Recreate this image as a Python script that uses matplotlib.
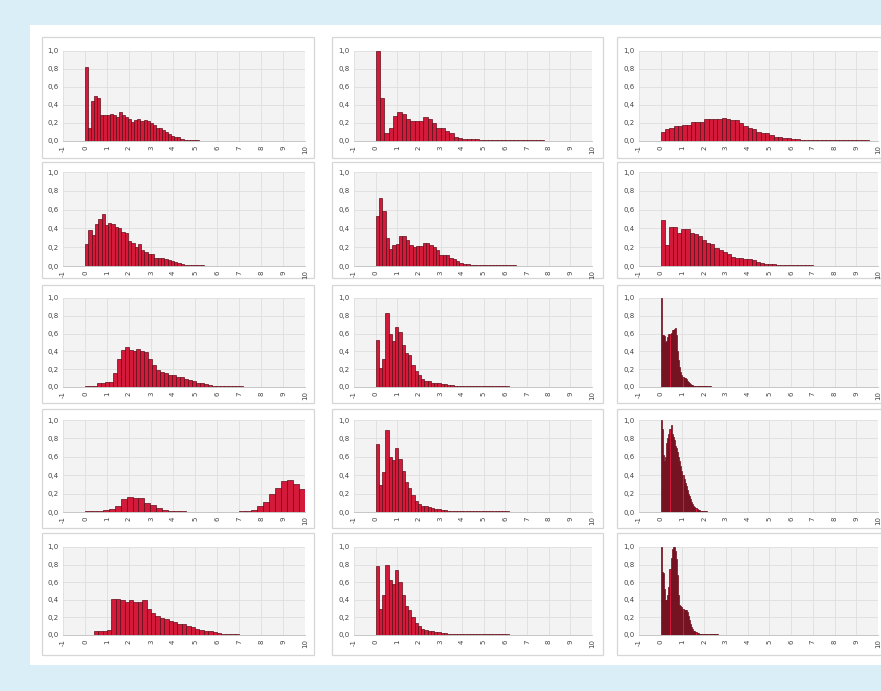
import numpy as np
import matplotlib
matplotlib.use("Agg")
import matplotlib.pyplot as plt
from matplotlib.patches import Rectangle

# histogram values per panel (row, column)
r1c1 = [0.82, 0.14, 0.45, 0.50, 0.48, 0.29, 0.29, 0.29, 0.30, 0.29, 0.27, 0.32, 0.29, 0.27, 0.25, 0.21, 0.23, 0.24,
        0.22, 0.23, 0.22, 0.20, 0.18, 0.15, 0.14, 0.12, 0.10, 0.08, 0.06, 0.05, 0.04, 0.025, 0.015, 0.01, 0.008, 0.007, 0.007]
r1c2 = [1.0, 0.48, 0.09, 0.14, 0.28, 0.32, 0.30, 0.25, 0.22, 0.22, 0.22, 0.27, 0.25, 0.20, 0.15, 0.15, 0.11, 0.09, 0.05,
        0.03, 0.025, 0.025, 0.025, 0.02, 0.012, 0.01, 0.009, 0.008, 0.007, 0.007, 0.007, 0.007, 0.007, 0.007, 0.007,
        0.007, 0.007, 0.007, 0.007]
r1c3 = [0.10, 0.13, 0.15, 0.17, 0.17, 0.18, 0.18, 0.21, 0.21, 0.21, 0.24, 0.24, 0.25, 0.25, 0.26, 0.25, 0.23, 0.23,
        0.20, 0.17, 0.15, 0.13, 0.10, 0.09, 0.09, 0.07, 0.05, 0.04, 0.03, 0.03, 0.025, 0.02, 0.015, 0.012, 0.01, 0.009,
        0.008, 0.007, 0.007, 0.007, 0.006, 0.006, 0.006, 0.006, 0.006, 0.006, 0.006, 0.006]
r2c1 = [0.23, 0.38, 0.33, 0.45, 0.50, 0.55, 0.44, 0.46, 0.45, 0.42, 0.40, 0.36, 0.35, 0.27, 0.24, 0.20, 0.23, 0.17,
        0.15, 0.13, 0.13, 0.09, 0.09, 0.09, 0.07, 0.06, 0.05, 0.04, 0.03, 0.02, 0.015, 0.01, 0.009, 0.008, 0.008, 0.007]
r2c2 = [0.53, 0.72, 0.58, 0.30, 0.18, 0.22, 0.23, 0.32, 0.32, 0.28, 0.22, 0.20, 0.21, 0.21, 0.25, 0.25, 0.22, 0.20,
        0.17, 0.12, 0.12, 0.12, 0.09, 0.07, 0.05, 0.03, 0.02, 0.02, 0.015, 0.015, 0.01, 0.01, 0.01, 0.01, 0.01, 0.008,
        0.008, 0.008, 0.007, 0.007, 0.007, 0.007]
r2c3 = [0.49, 0.22, 0.41, 0.42, 0.35, 0.39, 0.39, 0.35, 0.34, 0.32, 0.28, 0.24, 0.23, 0.19, 0.17, 0.15, 0.13, 0.10,
        0.09, 0.08, 0.07, 0.07, 0.06, 0.04, 0.035, 0.025, 0.02, 0.02, 0.01, 0.015, 0.01, 0.008, 0.008, 0.007, 0.007,
        0.007, 0.007]
r3c1 = [0.006, 0.006, 0.01, 0.045, 0.05, 0.06, 0.06, 0.16, 0.32, 0.42, 0.45, 0.42, 0.41, 0.43, 0.41, 0.39, 0.32, 0.25,
        0.19, 0.17, 0.16, 0.13, 0.13, 0.11, 0.11, 0.09, 0.08, 0.065, 0.05, 0.04, 0.03, 0.02, 0.012, 0.009, 0.008, 0.007,
        0.007, 0.007, 0.007, 0.006]
r3c2 = [0.53, 0.21, 0.31, 0.83, 0.59, 0.52, 0.67, 0.62, 0.47, 0.38, 0.36, 0.25, 0.18, 0.13, 0.09, 0.07, 0.07, 0.05,
        0.045, 0.04, 0.03, 0.03, 0.025, 0.02, 0.015, 0.012, 0.01, 0.009, 0.008, 0.008, 0.007, 0.007, 0.007, 0.007, 0.007,
        0.007, 0.007, 0.007, 0.007, 0.007, 0.007]
r3c3 = [1.0, 0.58, 0.58, 0.57, 0.50, 0.52, 0.56, 0.59, 0.60, 0.61, 0.64, 0.64, 0.65, 0.66, 0.58, 0.40, 0.30, 0.22,
        0.17, 0.13, 0.11, 0.10, 0.10, 0.09, 0.07, 0.06, 0.04, 0.03, 0.025, 0.02, 0.015, 0.012, 0.01, 0.01, 0.01, 0.01,
        0.009, 0.009, 0.009, 0.008, 0.008, 0.008, 0.008, 0.008, 0.008, 0.008]
r4c1 = [0.006, 0.006, 0.012, 0.02, 0.03, 0.065, 0.14, 0.16, 0.155, 0.155, 0.10, 0.075, 0.04, 0.025, 0.015, 0.008,
        0.006, 0.005, 0.005, 0.005, 0.005, 0.005, 0.005, 0.005, 0.005, 0.005, 0.006, 0.01, 0.025, 0.06, 0.11, 0.20,
        0.26, 0.34, 0.345, 0.30, 0.25]
r4c2 = [0.74, 0.29, 0.44, 0.89, 0.60, 0.57, 0.70, 0.58, 0.45, 0.33, 0.26, 0.18, 0.12, 0.09, 0.07, 0.06, 0.05, 0.04,
        0.035, 0.03, 0.025, 0.02, 0.015, 0.012, 0.01, 0.009, 0.008, 0.008, 0.007, 0.007, 0.007, 0.007, 0.007, 0.007,
        0.007, 0.007, 0.007, 0.007, 0.007, 0.007, 0.007]
r4c3 = [1.0, 0.90, 0.62, 0.55, 0.60, 0.75, 0.80, 0.85, 0.90, 0.95, 0.85, 0.82, 0.78, 0.72, 0.70, 0.65, 0.60, 0.55,
        0.50, 0.45, 0.40, 0.36, 0.32, 0.28, 0.24, 0.20, 0.17, 0.14, 0.11, 0.09, 0.07, 0.05, 0.04, 0.03, 0.025, 0.02,
        0.015, 0.012, 0.01, 0.009, 0.008, 0.008, 0.008]
r5c1 = [0.05, 0.05, 0.05, 0.06, 0.41, 0.41, 0.40, 0.38, 0.40, 0.38, 0.38, 0.40, 0.30, 0.25, 0.22, 0.19, 0.18, 0.16,
        0.15, 0.13, 0.12, 0.10, 0.09, 0.07, 0.06, 0.05, 0.04, 0.03, 0.02, 0.015, 0.01, 0.008, 0.007]
r5c2 = [0.78, 0.30, 0.45, 0.80, 0.62, 0.58, 0.74, 0.60, 0.45, 0.33, 0.28, 0.20, 0.14, 0.10, 0.07, 0.06, 0.05, 0.04,
        0.035, 0.03, 0.025, 0.02, 0.015, 0.012, 0.01, 0.009, 0.008, 0.008, 0.007, 0.007, 0.007, 0.007, 0.007, 0.007,
        0.007, 0.007, 0.007, 0.007, 0.007, 0.007, 0.007]
r5c3 = [1.0, 0.72, 0.70, 0.52, 0.40, 0.40, 0.45, 0.55, 0.75, 0.88, 0.98, 1.0, 1.0, 0.95, 0.86, 0.68, 0.45, 0.34,
        0.33, 0.32, 0.30, 0.28, 0.28, 0.28, 0.26, 0.22, 0.17, 0.12, 0.09, 0.07, 0.05, 0.04, 0.03, 0.025, 0.02, 0.015,
        0.012, 0.01, 0.01, 0.01, 0.01, 0.009, 0.009, 0.009, 0.009, 0.008, 0.008, 0.008, 0.008, 0.008, 0.008, 0.008,
        0.008]

panels = [[r1c1, r1c2, r1c3], [r2c1, r2c2, r2c3], [r3c1, r3c2, r3c3], [r4c1, r4c2, r4c3], [r5c1, r5c2, r5c3]]
bin_width = [[0.14, 0.2, 0.2], [0.15, 0.155, 0.19], [0.18, 0.15, 0.05], [0.27, 0.15, 0.05], [0.2, 0.15, 0.05]]
bin_start = [[0, 0, 0], [0, 0, 0], [0, 0, 0], [0, 0, 0], [0.4, 0, 0]]

x_ticks = list(range(-1, 11))
y_ticks = [0.0, 0.2, 0.4, 0.6, 0.8, 1.0]
y_labels = ["0,0", "0,2", "0,4", "0,6", "0,8", "1,0"]

# layout in pixels (image is 881 x 691)
W, H = 881, 691
box_x = [(42, 314), (332, 603), (617, 900)]
box_y = [(37, 158), (162, 278), (285, 403), (409, 528), (533, 655)]
plot_x = [(63, 305), (354, 592), (639, 878)]
plot_y = [(51, 141), (172, 266), (298, 387), (420, 512), (547, 635)]

fig = plt.figure(figsize=(W / 100, H / 100), dpi=100)
fig.patch.set_facecolor("#d9eef7")
fig.patches.append(Rectangle((30 / W, 1 - 665 / H), 1, 640 / H, transform=fig.transFigure,
                             facecolor="white", edgecolor="none", zorder=-3))

for r in range(5):
    for c in range(3):
        bx0, bx1 = box_x[c]; by0, by1 = box_y[r]
        fig.patches.append(Rectangle((bx0 / W, 1 - by1 / H), (bx1 - bx0) / W, (by1 - by0) / H,
                                     transform=fig.transFigure, facecolor="white",
                                     edgecolor="#d6d6d6", linewidth=0.9, zorder=-2))
        px0, px1 = plot_x[c]; py0, py1 = plot_y[r]
        ax = fig.add_axes([px0 / W, 1 - py1 / H, (px1 - px0) / W, (py1 - py0) / H])
        ax.set_facecolor("#f3f3f3")
        vals = panels[r][c]; w = bin_width[r][c]
        xs = bin_start[r][c] + np.arange(len(vals)) * w
        ax.bar(xs, vals, width=w, align="edge", color="#d31a3b", edgecolor="#5e0c18", linewidth=0.5, zorder=3)
        ax.set_xlim(-1, 10); ax.set_ylim(0, 1.0)
        ax.set_xticks(x_ticks)
        ax.set_xticklabels([str(t) for t in x_ticks], rotation=90, fontsize=5, color="#444444")
        ax.set_yticks(y_ticks)
        ax.set_yticklabels(y_labels, fontsize=5, color="#444444")
        ax.grid(True, color="#dedede", linewidth=0.6, zorder=0)
        ax.set_axisbelow(True)
        ax.tick_params(length=0, pad=3)
        for s in ("top", "right", "left"):
            ax.spines[s].set_visible(False)
        ax.spines["bottom"].set_color("#bdbdbd"); ax.spines["bottom"].set_linewidth(0.6)

fig.savefig("out.png", dpi=100, facecolor=fig.get_facecolor())
